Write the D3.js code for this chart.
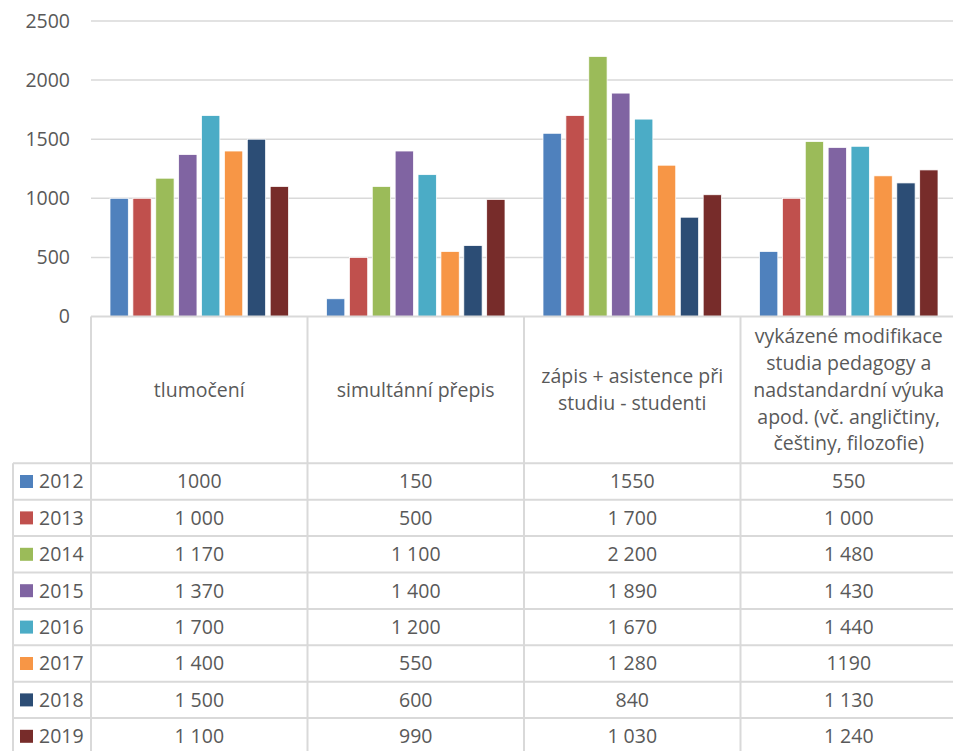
<!DOCTYPE html>
<html>
<head>
<meta charset="utf-8">
<script src="https://cdn.jsdelivr.net/npm/d3@7"></script>
<style>
  body { margin: 0; background: #fff; }
  svg text { font-family: 'Open Sans', sans-serif; fill: #595959; }
</style>
</head>
<body>
<div id="chart"></div>
<script>
// data ----------------------------------------------------------------
const categories = ['tlumočení', 'simultánní přepis', 'zápis + asistence při studiu - studenti',
  'vykázené modifikace studia pedagogy a nadstandardní výuka apod. (vč. angličtiny, češtiny, filozofie)'];
const categoryLines = [
  ['tlumočení'],
  ['simultánní přepis'],
  ['zápis + asistence při', 'studiu - studenti'],
  ['vykázené modifikace', 'studia pedagogy a', 'nadstandardní výuka', 'apod. (vč. angličtiny,', 'češtiny, filozofie)']
];
const years = ['2012', '2013', '2014', '2015', '2016', '2017', '2018', '2019'];
const v2012 = [1000, 150, 1550, 550];
const v2013 = [1000, 500, 1700, 1000];
const v2014 = [1170, 1100, 2200, 1480];
const v2015 = [1370, 1400, 1890, 1430];
const v2016 = [1700, 1200, 1670, 1440];
const v2017 = [1400, 550, 1280, 1190];
const v2018 = [1500, 600, 840, 1130];
const v2019 = [1100, 990, 1030, 1240];
// text as shown in the data table
const t2012 = ['1000', '150', '1550', '550'];
const t2013 = ['1 000', '500', '1 700', '1 000'];
const t2014 = ['1 170', '1 100', '2 200', '1 480'];
const t2015 = ['1 370', '1 400', '1 890', '1 430'];
const t2016 = ['1 700', '1 200', '1 670', '1 440'];
const t2017 = ['1 400', '550', '1 280', '1190'];
const t2018 = ['1 500', '600', '840', '1 130'];
const t2019 = ['1 100', '990', '1 030', '1 240'];
const yTicks = [0, 500, 1000, 1500, 2000, 2500];
const colors = ['#4F81BD', '#C0504D', '#9BBB59', '#8064A2', '#4BACC6', '#F79646', '#2C4D75', '#772C2A'];

const values = [v2012, v2013, v2014, v2015, v2016, v2017, v2018, v2019];
const texts = [t2012, t2013, t2014, t2015, t2016, t2017, t2018, t2019];

// chart init ----------------------------------------------------------
const width = 953, height = 751;
const plotLeft = 91, bandW = 216.5;
const y0 = 316.5, yTop = 21;
const headerBottom = 463.3, rowH = 36.4, tableLeft = 13;
const gridColor = '#d9d9d9';
const fontSize = 19.5;

const svg = d3.select('#chart').append('svg')
  .attr('width', width).attr('height', height);

const xScale = d3.scaleBand()
  .domain(d3.range(categories.length))
  .range([plotLeft, plotLeft + bandW * categories.length]);

const xInner = d3.scaleBand()
  .domain(years)
  .range([19, bandW - 19])
  .paddingInner(0.2);

const yScale = d3.scaleLinear()
  .domain([0, 2500])
  .range([y0, yTop]);

// gridlines
svg.append('g').selectAll('line')
  .data(yTicks.slice(1))
  .join('line')
  .attr('x1', plotLeft).attr('x2', width)
  .attr('y1', d => yScale(d)).attr('y2', d => yScale(d))
  .attr('stroke', gridColor).attr('stroke-width', 1.5);

// y axis labels
svg.append('g').selectAll('text')
  .data(yTicks)
  .join('text')
  .attr('x', 70)
  .attr('y', d => yScale(d))
  .attr('dy', '0.35em')
  .attr('text-anchor', 'end')
  .style('font-size', fontSize + 'px')
  .text(d => d);

// bars
const groups = svg.append('g').selectAll('g')
  .data(years)
  .join('g');

groups.selectAll('rect')
  .data((yr, i) => values[i].map((v, c) => ({ yr, i, c, v })))
  .join('rect')
  .attr('x', d => xScale(d.c) + xInner(d.yr))
  .attr('width', xInner.bandwidth())
  .attr('y', d => yScale(d.v))
  .attr('height', d => y0 - yScale(d.v))
  .attr('fill', d => colors[d.i])
  .attr('stroke', '#fff')
  .attr('stroke-width', 0.75);

// data table ----------------------------------------------------------
const table = svg.append('g');
const tableBottom = height + 5;

// axis / header top line
table.append('line')
  .attr('x1', plotLeft).attr('x2', width)
  .attr('y1', y0).attr('y2', y0)
  .attr('stroke', gridColor).attr('stroke-width', 2);

// vertical lines between categories
table.selectAll('.vline')
  .data(d3.range(categories.length + 1))
  .join('line')
  .attr('class', 'vline')
  .attr('x1', d => plotLeft + d * bandW).attr('x2', d => plotLeft + d * bandW)
  .attr('y1', y0).attr('y2', tableBottom)
  .attr('stroke', gridColor).attr('stroke-width', 2);

// left edge of legend column
table.append('line')
  .attr('x1', tableLeft).attr('x2', tableLeft)
  .attr('y1', headerBottom).attr('y2', tableBottom)
  .attr('stroke', gridColor).attr('stroke-width', 2);

// row lines
table.selectAll('.hline')
  .data(d3.range(years.length + 1))
  .join('line')
  .attr('class', 'hline')
  .attr('x1', tableLeft).attr('x2', width)
  .attr('y1', d => headerBottom + d * rowH).attr('y2', d => headerBottom + d * rowH)
  .attr('stroke', gridColor).attr('stroke-width', 2);

// category headers
const lineH = 26.8;
const headerMid = (y0 + headerBottom) / 2;
categoryLines.forEach((lines, c) => {
  const cx = xScale(c) + bandW / 2;
  const t = table.append('text')
    .attr('text-anchor', 'middle')
    .style('font-size', fontSize + 'px');
  lines.forEach((ln, k) => {
    t.append('tspan')
      .attr('x', cx)
      .attr('y', headerMid + (k - (lines.length - 1) / 2) * lineH)
      .attr('dy', '0.35em')
      .text(ln);
  });
});

// rows: legend key + values
years.forEach((yr, i) => {
  const cy = headerBottom + i * rowH + rowH / 2;
  table.append('rect')
    .attr('x', 20).attr('y', cy - 6.5)
    .attr('width', 13).attr('height', 13)
    .attr('fill', colors[i]);
  table.append('text')
    .attr('x', 39).attr('y', cy).attr('dy', '0.35em')
    .style('font-size', fontSize + 'px')
    .text(yr);
  texts[i].forEach((s, c) => {
    table.append('text')
      .attr('x', xScale(c) + bandW / 2)
      .attr('y', cy).attr('dy', '0.35em')
      .attr('text-anchor', 'middle')
      .style('font-size', fontSize + 'px')
      .text(s);
  });
});
</script>
</body>
</html>
